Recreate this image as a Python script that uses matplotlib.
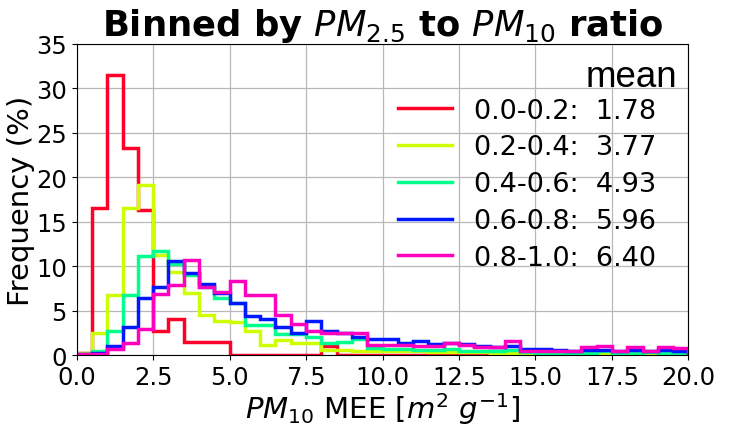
import numpy as np
import matplotlib
matplotlib.use('Agg')
import matplotlib.pyplot as plt

# bin edges of the MEE histogram (m2/g)
edges = np.arange(0, 20.01, 0.5)

ratio_bins = ['0.0-0.2', '0.2-0.4', '0.4-0.6', '0.6-0.8', '0.8-1.0']
means = [1.78, 3.77, 4.93, 5.96, 6.40]

# frequency (%) per bin
freq_00_02 = [0.2, 16.5, 31.5, 23.3, 16.3, 2.7, 4.1, 1.5, 1.5, 1.5,
              0.0, 0.0, 0.0, 0.0, 0.0, 0.0, 1.0, 0.0, 0.0, 0.0,
              0.0, 0.0, 0.0, 0.0, 0.0, 0.0, 0.0, 0.0, 0.0, 0.0,
              0.0, 0.0, 0.0, 0.0, 0.0, 0.0, 0.0, 0.0, 0.0, 0.0]
freq_02_04 = [0.2, 2.5, 6.8, 16.5, 19.1, 11.3, 9.3, 7.0, 4.5, 3.8,
              3.7, 2.7, 1.1, 1.7, 1.3, 1.3, 0.6, 0.6, 0.5, 0.5,
              0.4, 0.4, 0.4, 0.3, 0.3, 0.3, 0.3, 0.2, 0.2, 0.2,
              0.1, 0.2, 0.1, 0.1, 0.2, 0.1, 0.1, 0.2, 0.1, 0.1]
freq_04_06 = [0.1, 0.4, 2.7, 6.8, 11.1, 11.7, 10.2, 9.0, 7.6, 6.4,
              5.8, 3.4, 3.4, 2.4, 2.4, 2.0, 1.4, 1.5, 1.8, 0.8,
              0.7, 0.7, 0.6, 0.6, 0.7, 0.4, 0.4, 0.5, 0.6, 0.3,
              0.2, 0.2, 0.2, 0.2, 0.4, 0.2, 0.2, 0.3, 0.2, 0.2]
freq_06_08 = [0.1, 0.2, 1.0, 3.1, 6.4, 7.7, 10.6, 9.2, 8.0, 7.0,
              5.9, 4.4, 4.0, 3.1, 2.5, 3.8, 2.7, 2.5, 2.0, 1.8,
              1.8, 1.4, 1.6, 1.2, 1.4, 1.2, 1.0, 0.9, 1.0, 0.7,
              0.7, 0.6, 0.4, 0.6, 0.6, 0.4, 0.6, 0.4, 0.6, 0.5]
freq_08_10 = [0.1, 0.1, 0.7, 1.4, 2.9, 6.9, 7.9, 10.7, 7.6, 7.1,
              8.3, 6.8, 6.8, 4.5, 3.5, 2.7, 2.5, 2.5, 2.5, 1.1,
              1.1, 1.1, 1.0, 1.0, 1.3, 1.1, 0.9, 0.9, 1.6, 0.5,
              0.5, 0.4, 0.4, 0.9, 1.0, 0.5, 0.9, 0.4, 0.9, 0.8]

all_freqs = [freq_00_02, freq_02_04, freq_04_06, freq_06_08, freq_08_10]
colors = plt.cm.gist_rainbow(np.linspace(0, 1, len(all_freqs)))

fig = plt.figure(figsize=(7.3, 4.39), dpi=100)
ax = fig.add_axes([0.105, 0.189, 0.838, 0.709])

for freq, rb, m, c in zip(all_freqs, ratio_bins, means, colors):
    ax.stairs(freq, edges, color=c, lw=2.5, label='%s:  %.2f' % (rb, m))

ax.set_xlim(0, 20)
ax.set_ylim(0, 35)
ax.set_xticks(np.arange(0, 20.1, 2.5))
ax.set_yticks(np.arange(0, 36, 5))
ax.tick_params(labelsize=17.5)
ax.grid(True, color='#b8b8b8', lw=0.9)
ax.set_axisbelow(True)

ax.set_xlabel('$PM_{10}$ MEE [$m^2$ $g^{-1}$]', fontsize=21, labelpad=1)
ax.set_ylabel('Frequency (%)', fontsize=21, labelpad=1)
ax.set_title('Binned by $PM_{2.5}$ to $PM_{10}$ ratio', fontsize=25.5,
             fontweight='bold', pad=3)

ax.legend(loc='upper right', bbox_to_anchor=(0.965, 0.862), frameon=False,
          fontsize=19.5, labelspacing=0.4, handlelength=2.0,
          borderaxespad=0)
ax.text(0.981, 0.865, 'mean', transform=ax.transAxes, ha='right',
        va='baseline', fontsize=26.5, family='Liberation Sans')

fig.savefig('out.png', dpi=100)
